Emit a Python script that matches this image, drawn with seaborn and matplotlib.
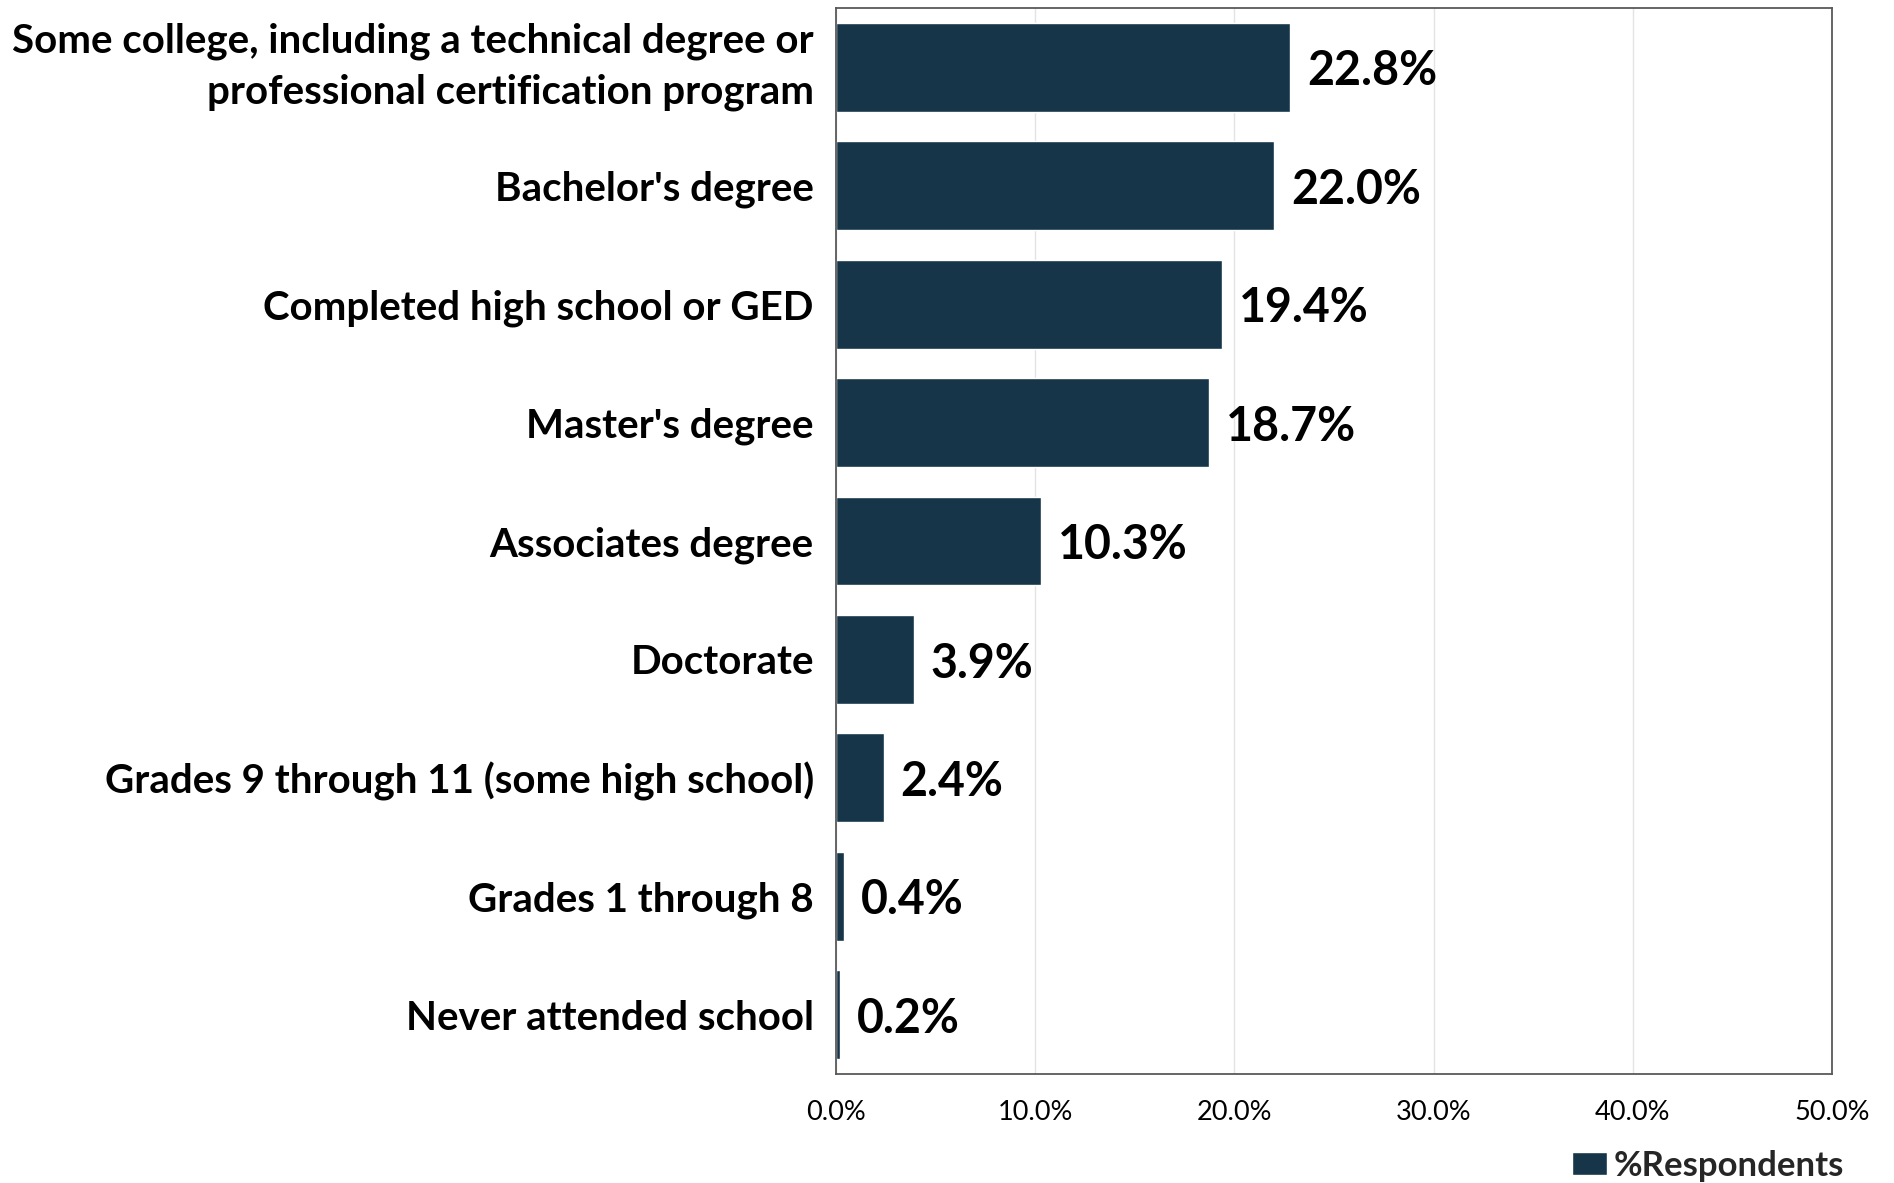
import matplotlib
matplotlib.use("Agg")
import matplotlib.pyplot as plt
import seaborn as sns
import pandas as pd
from matplotlib.ticker import FuncFormatter, MultipleLocator

categories = [
    "Some college, including a technical degree or\nprofessional certification program",
    "Bachelor's degree",
    "Completed high school or GED",
    "Master's degree",
    "Associates degree",
    "Doctorate",
    "Grades 9 through 11 (some high school)",
    "Grades 1 through 8",
    "Never attended school",
]
values = [22.8, 22.0, 19.4, 18.7, 10.3, 3.9, 2.4, 0.4, 0.2]
series_name = "%Respondents"

sns.set_theme(style="white")
plt.rcParams["font.family"] = ["Lato", "DejaVu Sans"]

df = pd.DataFrame({"category": categories, "value": values})

fig = plt.figure(figsize=(18.94, 11.83), dpi=100)
L, R, T, B = 836, 1832, 8, 1074
ax = fig.add_axes([L/1894, 1-B/1183, (R-L)/1894, (B-T)/1183])

bar_color = "#163549"
sns.barplot(data=df, y="category", x="value", orient="h", color=bar_color,
            width=0.75, ax=ax, label=series_name, saturation=1)

ax.set_xlim(0, 50)
ax.set_ylim(8.5, -0.5)
ax.xaxis.set_major_locator(MultipleLocator(10))
ax.xaxis.set_major_formatter(FuncFormatter(lambda v, p: f"{v:.1f}%"))
ax.grid(axis="x", color="#e3e3e3", linewidth=1)
ax.set_axisbelow(True)
ax.set_xlabel("")
ax.set_ylabel("")

for s in ax.spines.values():
    s.set_visible(True)
    s.set_color("#595959")
    s.set_linewidth(1.3)

ax.tick_params(axis="x", labelsize=19.5, pad=19, length=0, colors="black")
ax.tick_params(axis="y", labelsize=29, pad=16, length=0)
for lab in ax.get_yticklabels():
    lab.set_fontweight("bold")
    lab.set_color("black")
    lab.set_linespacing(1.45)
    if "\n" in lab.get_text():
        lab.set_verticalalignment("center")

for i, v in enumerate(values):
    ax.text(v + 0.85, i + 0.035, f"{v:.1f}%", va="center", ha="left",
            fontsize=33.5, fontweight="bold", color="black")

handles, labels = ax.get_legend_handles_labels()
if ax.get_legend():
    ax.get_legend().remove()
fig.legend(handles[:1], [series_name], loc="center right",
           bbox_to_anchor=(1844/1894, 17/1183), frameon=False,
           prop={"size": 25, "weight": "bold"}, handlelength=1.0,
           handleheight=0.65, handletextpad=0.2, borderpad=0, borderaxespad=0)

fig.savefig("out.png", dpi=100)
